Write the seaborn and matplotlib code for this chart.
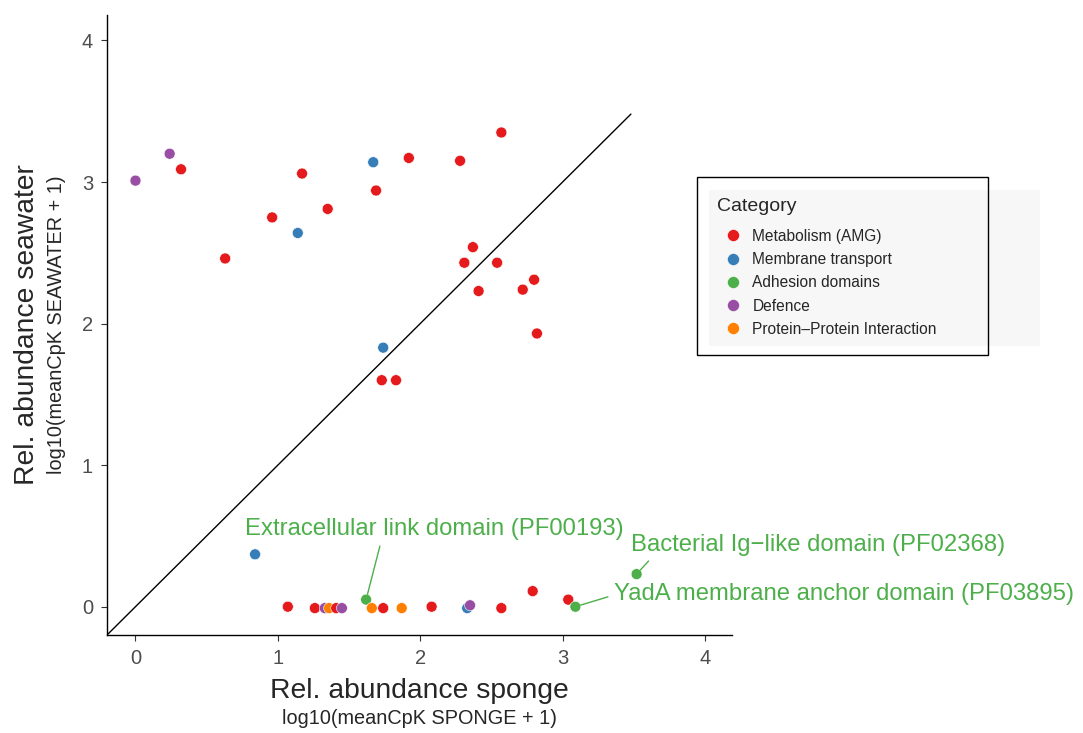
import matplotlib
matplotlib.use("Agg")
import matplotlib.pyplot as plt
import matplotlib.patches as mpatches
import numpy as np
import pandas as pd
import seaborn as sns

# values
sponge = [0.00, 0.24, 0.32, 0.96, 1.17, 1.14, 0.63, 1.35, 1.67, 1.92, 2.28, 2.57,
          1.69, 2.37, 2.31, 2.54, 2.80, 2.72, 2.41, 2.82, 1.74, 1.73, 1.83,
          0.84, 1.07, 1.26, 1.33, 1.36, 1.41, 1.45, 1.62, 1.66, 1.74, 1.87,
          2.08, 2.33, 2.35, 2.57, 2.79, 3.04, 3.09, 3.52]
seawater = [3.01, 3.20, 3.09, 2.75, 3.06, 2.64, 2.46, 2.81, 3.14, 3.17, 3.15, 3.35,
            2.94, 2.54, 2.43, 2.43, 2.31, 2.24, 2.23, 1.93, 1.83, 1.60, 1.60,
            0.37, 0.00, -0.01, -0.01, -0.01, -0.01, -0.01, 0.05, -0.01, -0.01, -0.01,
            0.00, -0.01, 0.01, -0.01, 0.11, 0.05, 0.00, 0.23]
category = ["Defence", "Defence", "Metabolism (AMG)", "Metabolism (AMG)", "Metabolism (AMG)",
            "Membrane transport", "Metabolism (AMG)", "Metabolism (AMG)", "Membrane transport",
            "Metabolism (AMG)", "Metabolism (AMG)", "Metabolism (AMG)", "Metabolism (AMG)",
            "Metabolism (AMG)", "Metabolism (AMG)", "Metabolism (AMG)", "Metabolism (AMG)",
            "Metabolism (AMG)", "Metabolism (AMG)", "Metabolism (AMG)", "Membrane transport",
            "Metabolism (AMG)", "Metabolism (AMG)",
            "Membrane transport", "Metabolism (AMG)", "Metabolism (AMG)", "Defence",
            "Protein\u2013Protein Interaction", "Metabolism (AMG)", "Defence", "Adhesion domains",
            "Protein\u2013Protein Interaction", "Metabolism (AMG)", "Protein\u2013Protein Interaction",
            "Metabolism (AMG)", "Membrane transport", "Defence", "Metabolism (AMG)",
            "Metabolism (AMG)", "Metabolism (AMG)", "Adhesion domains", "Adhesion domains"]

categories = ["Metabolism (AMG)", "Membrane transport", "Adhesion domains",
              "Defence", "Protein\u2013Protein Interaction"]
colors = ["#E41A1C", "#377EB8", "#4DAF4A", "#984EA3", "#FF7F00"]

# labelled domains: point and text anchor
labels = ["Extracellular link domain (PF00193)",
          "Bacterial Ig\u2212like domain (PF02368)",
          "YadA membrane anchor domain (PF03895)"]
label_pts = [(1.62, 0.05), (3.52, 0.23), (3.09, 0.00)]
label_txt = [(2.10, 0.47), (3.48, 0.36), (3.36, 0.09)]

df = pd.DataFrame({"sponge": sponge, "seawater": seawater, "category": category})
df["category"] = pd.Categorical(df["category"], categories=categories)

sns.set_style("white")
plt.rcParams["font.family"] = ["Liberation Sans", "DejaVu Sans"]

W, H = 1083, 733
fig = plt.figure(figsize=(W / 100, H / 100), dpi=100)
ax = fig.add_axes([107 / W, 1 - 635 / H, 625 / W, 620 / H])
ax.patch.set_alpha(0)

# light grey panel and black box of the legend
fig.patches.append(mpatches.Rectangle((709 / W, 1 - 346 / H), 331 / W, 156 / H,
                                      transform=fig.transFigure, facecolor="#F7F7F7",
                                      edgecolor="none", zorder=-1))
fig.patches.append(mpatches.Rectangle((697 / W, 1 - 355 / H), 291 / W, 178 / H,
                                      transform=fig.transFigure, facecolor="none",
                                      edgecolor="black", lw=1.0, zorder=-0.5))

lo, hi = -0.2, 3.48
ax.plot([lo, hi], [lo, hi], color="black", lw=1.0, zorder=1)

sns.scatterplot(data=df, x="sponge", y="seawater", hue="category", hue_order=categories,
                palette=colors, s=62, edgecolor="white", linewidth=0.4, ax=ax, zorder=3)

green = "#4DAF4A"
relpos = [(0.36, 0.0), (0.06, 0.0), (0.0, 0.45)]
vas = ["bottom", "bottom", "center"]
has = ["center", "left", "left"]
for lab, pt, tx, rp, va, ha in zip(labels, label_pts, label_txt, relpos, vas, has):
    ax.annotate(lab, xy=pt, xytext=tx, color=green, fontsize=17.2, va=va, ha=ha,
                annotation_clip=False,
                arrowprops=dict(arrowstyle="-", color=green, lw=1.0, relpos=rp,
                                shrinkA=2, shrinkB=4))

ax.set_xlim(-0.2, 4.19)
ax.set_ylim(-0.2, 4.18)
ax.set_xticks([0, 1, 2, 3, 4])
ax.set_yticks([0, 1, 2, 3, 4])
ax.tick_params(axis="both", length=4, width=0.8, color="#333333", labelsize=14.5,
               labelcolor="#4D4D4D", pad=6, bottom=True, left=True)
for side in ["top", "right"]:
    ax.spines[side].set_visible(False)
for side in ["left", "bottom"]:
    ax.spines[side].set_color("black")
    ax.spines[side].set_linewidth(1.0)
ax.set_xlabel("")
ax.set_ylabel("")

xc = (107 + 732) / 2 / W
yc = 1 - 325 / H
fig.text(xc, 1 - 691 / H, "Rel. abundance sponge", fontsize=20.3, ha="center", va="center")
fig.text(xc, 1 - 718 / H, "log10(meanCpK SPONGE + 1)", fontsize=14.3, ha="center", va="center")
fig.text(27 / W, yc, "Rel. abundance seawater", fontsize=20.3, ha="center", va="center",
         rotation=90)
fig.text(57 / W, yc, "log10(meanCpK SEAWATER + 1)", fontsize=14.3, ha="center",
         va="center", rotation=90)

leg = ax.legend(title="Category", loc="upper left",
                bbox_to_anchor=(717 / W, 1 - 198 / H), bbox_transform=fig.transFigure,
                fontsize=11.2, title_fontsize=14, frameon=False,
                borderpad=0, labelspacing=0.53, handlelength=2.0, handletextpad=0.28,
                markerscale=1.1, borderaxespad=0)
leg._legend_box.align = "left"
leg._legend_box.sep = 10

fig.savefig("out.png", dpi=100)
